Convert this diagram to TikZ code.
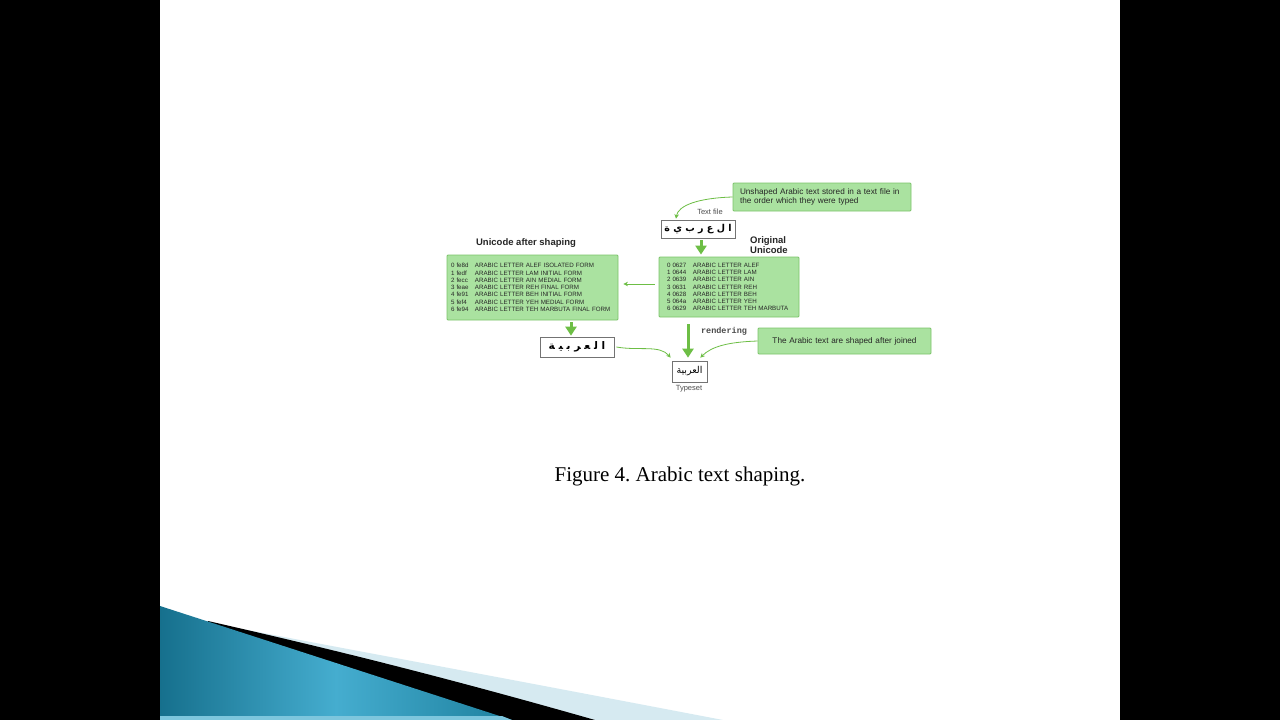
\documentclass[tikz,border=0pt]{standalone}
\usepackage{fontspec}
\setmainfont{Liberation Sans}
\newfontfamily\capfont{Liberation Serif}
\newfontfamily\monofont{Liberation Mono}
\newfontfamily\arabicfont[Script=Arabic]{DejaVu Sans}
\TeXXeTstate=1
\frenchspacing
\usetikzlibrary{arrows.meta,calc}
\definecolor{boxgreen}{HTML}{AAE2A0}
\definecolor{boxborder}{HTML}{7CC46A}
\definecolor{agreen}{HTML}{6DBE45}
\definecolor{blueA}{HTML}{16708D}
\definecolor{blueB}{HTML}{45ADCF}
\definecolor{blueC}{HTML}{1E819F}
\definecolor{lightstripe}{HTML}{D6EAF1}
\begin{document}
\begin{tikzpicture}[x=1pt,y=-1pt,
  gbox/.style={draw=boxborder, fill=boxgreen, line width=0.8pt, rounded corners=1pt, align=left, anchor=center},
  wbox/.style={draw=black!55, fill=white, line width=0.7pt, inner sep=0pt, anchor=center},
  listtext/.style={font=\fontsize{6.2}{7.25}\selectfont, text=black!85},
  notetext/.style={font=\fontsize{8.2}{9.5}\selectfont, text=black!85},
  lbl/.style={inner sep=0pt, font=\fontsize{7.5}{8}\selectfont, text=black!70},
  boldlbl/.style={inner sep=0pt, font=\bfseries\fontsize{9.5}{10}\selectfont, text=black!85},
  thickarrow/.style={draw=agreen, line width=3pt, -{Triangle[width=11pt,length=9pt]}},
  thinarrow/.style={draw=agreen, line width=0.8pt, -{Stealth[width=4.5pt,length=4.5pt]}}
]
\useasboundingbox (0,0) rectangle (1280,720);
% slide background
\fill[black] (0,0) rectangle (1280,720);
\fill[white] (160,0) rectangle (1120,720);
% bottom-left decoration
\fill[lightstripe] (232,627) .. controls (330,646) and (430,664) .. (723,720) -- (200,720) -- cycle;
\fill[black] (208,621) .. controls (300,642) and (420,670) .. (595,720) -- (200,720) -- cycle;
\shade[left color=blueA, right color=blueC, middle color=blueB] (160,606) -- (512,720) -- (160,720) -- cycle;
\fill[blueB!70!white] (160,716) -- (502,716) -- (512,720) -- (160,720) -- cycle;

% notes and boxes
\node[gbox, notetext, minimum width=178, minimum height=28, text width=164pt, inner xsep=7pt, inner ysep=0pt] (note1) at (822,197)
  {Unshaped Arabic text stored in a text file in the order which they were typed};
\node[lbl] (tflbl) at (710,212) {Text file};
\node[wbox, minimum width=74, minimum height=18] (tf) at (698,229)
  {\arabicfont\bfseries\fontsize{9.5}{10}\selectfont\beginR ا ل ع ر ب ي ة\endR};
\node[boldlbl, align=left, anchor=north west] (origlbl) at (750,236) {Original\\Unicode};
\node[boldlbl] (afterlbl) at (526,243) {Unicode after shaping};

\node[gbox, listtext, minimum width=140, minimum height=60, text width=124pt, inner xsep=8pt, inner ysep=0pt] (orig) at (729,287)
  {\makebox[26pt][l]{0 0627}ARABIC LETTER ALEF\\
   \makebox[26pt][l]{1 0644}ARABIC LETTER LAM\\
   \makebox[26pt][l]{2 0639}ARABIC LETTER AIN\\
   \makebox[26pt][l]{3 0631}ARABIC LETTER REH\\
   \makebox[26pt][l]{4 0628}ARABIC LETTER BEH\\
   \makebox[26pt][l]{5 064a}ARABIC LETTER YEH\\
   \makebox[26pt][l]{6 0629}ARABIC LETTER TEH MARBUTA};

\node[gbox, listtext, minimum width=171, minimum height=65, text width=163pt, inner xsep=4pt, inner ysep=0pt] (after) at (532.5,287.5)
  {\makebox[24pt][l]{0 fe8d}ARABIC LETTER ALEF ISOLATED FORM\\
   \makebox[24pt][l]{1 fedf}ARABIC LETTER LAM INITIAL FORM\\
   \makebox[24pt][l]{2 fecc}ARABIC LETTER AIN MEDIAL FORM\\
   \makebox[24pt][l]{3 feae}ARABIC LETTER REH FINAL FORM\\
   \makebox[24pt][l]{4 fe91}ARABIC LETTER BEH INITIAL FORM\\
   \makebox[24pt][l]{5 fef4}ARABIC LETTER YEH MEDIAL FORM\\
   \makebox[24pt][l]{6 fe94}ARABIC LETTER TEH MARBUTA FINAL FORM};

\node[wbox, minimum width=74, minimum height=20] (sep) at (577,347)
  {\arabicfont\bfseries\fontsize{10.5}{11}\selectfont\beginR ﺍ ﻟ ﻌ ﺮ ﺑ ﻴ ﺔ\endR};
\node[wbox, minimum width=35, minimum height=21] (typeset) at (689.5,371.5)
  {\arabicfont\fontsize{9.5}{10}\selectfont\beginR العربية\endR};
\node[lbl] (typelbl) at (689,389) {Typeset};
\node[inner sep=0pt, font=\monofont\bfseries\fontsize{8.5}{9}\selectfont, text=black!70] (rend) at (724,331) {rendering};
\node[gbox, notetext, minimum width=173, minimum height=26, text width=159pt, inner xsep=7pt, inner ysep=0pt, align=center] (note2) at (844.5,341)
  {The Arabic text are shaped after joined};

% caption
\node[inner sep=0pt, anchor=base, font=\capfont\fontsize{21}{24}\selectfont] (cap) at (680,481) {Figure 4. Arabic text shaping.};

% connectors
\draw[thinarrow] (note1.west) .. controls ($(note1.west)+(-35,1)$) and ($(tf.north)+(-20,-14)$) .. ([xshift=-22pt,yshift=1pt]tf.north);
\draw[thickarrow, shorten <=2pt, shorten >=2pt] ([xshift=3pt]tf.south) -- ([xshift=3pt]tf.south |- orig.north);
\draw[thinarrow, shorten <=4pt, shorten >=5pt] ([yshift=3pt]orig.west) -- ([yshift=3pt]orig.west -| after.east);
\draw[thickarrow, shorten <=2pt, shorten >=1pt] ([xshift=-6pt]sep.north |- after.south) -- ([xshift=-6pt]sep.north);
\draw[thickarrow, shorten <=7pt, shorten >=3pt] ([xshift=-1.5pt]typeset.north |- orig.south) -- ([xshift=-1.5pt]typeset.north);
\draw[thinarrow] ([xshift=2pt]sep.east) .. controls ($(sep.east)+(25,4)$) and ($(typeset.north west)+(-12,-16)$) .. ([xshift=-1pt,yshift=3pt]typeset.north west);
\draw[thinarrow] (note2.west) .. controls ($(note2.west)+(-30,1)$) and ($(typeset.north east)+(4,-14)$) .. ([xshift=-7pt,yshift=3pt]typeset.north east);
\end{tikzpicture}
\end{document}
